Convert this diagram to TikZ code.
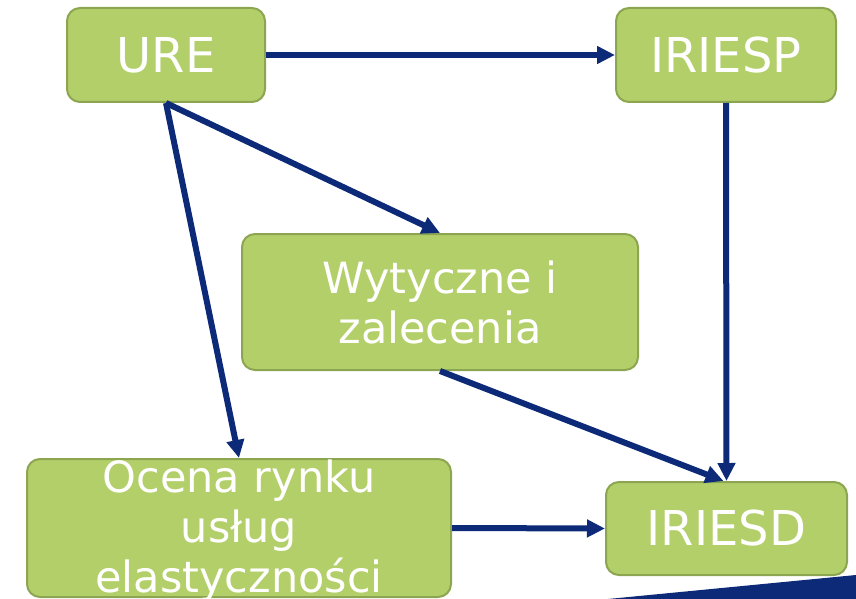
\documentclass[tikz,border=0pt]{standalone}
\usepackage{fontspec}
\setmainfont{DejaVu Sans}
\usetikzlibrary{arrows.meta}
\definecolor{boxfill}{RGB}{179,207,106}
\definecolor{boxedge}{RGB}{140,165,80}
\definecolor{navy}{RGB}{12,42,120}
\tikzset{
  gbox/.style={draw=boxedge, fill=boxfill, line width=2pt, rounded corners=13pt,
    inner sep=0pt, text=white, align=center},
  bigtxt/.style={font=\fontsize{48}{52}\selectfont},
  midtxt/.style={font=\fontsize{43}{50}\selectfont},
  arr/.style={draw=navy, line width=6pt, -{Triangle[length=18pt,width=17pt]}}
}
\begin{document}
\begin{tikzpicture}[x=1pt,y=-1pt]
\useasboundingbox (0,0) rectangle (856,599);
\clip (0,0) rectangle (856,599);
\node[gbox,bigtxt,minimum width=198pt,minimum height=94pt] (ure) at (166,55) {URE};
\node[gbox,bigtxt,minimum width=220pt,minimum height=94pt] (iriesp) at (726,55) {IRIESP};
\node[gbox,midtxt,minimum width=396pt,minimum height=136pt] (wyt) at (440,302) {Wytyczne i\\zalecenia};
\node[gbox,minimum width=424pt,minimum height=138pt] (ocena) at (239,528) {};
\node[text=white,align=center,midtxt,inner sep=0pt] (ocenatxt) at (239,531) {Ocena rynku\\usług\\elastyczności};
\node[gbox,bigtxt,minimum width=241pt,minimum height=93pt] (iriesd) at (726.5,528.5) {IRIESD};
\fill[navy] (608,599) -- (856,575) -- (856,599) -- cycle;
\draw[arr] (ure.east) -- (iriesp.west);
\draw[arr] (ure.south) -- (wyt.north);
\draw[arr] (ure.south) -- (ocena.north);
\draw[arr] (iriesp.south) -- (iriesd.north);
\draw[arr] (wyt.south) -- ([xshift=-3pt]iriesd.north);
\draw[arr] (ocena.east) -- (iriesd.west);
\end{tikzpicture}
\end{document}
